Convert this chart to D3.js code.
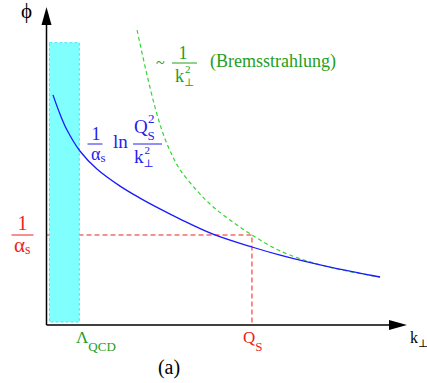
<!DOCTYPE html>
<html>
<head>
<meta charset="utf-8">
<script src="https://cdn.jsdelivr.net/npm/d3@7"></script>
<style>
  body { margin: 0; background: #fff; }
  svg text { font-family: "Liberation Serif", "DejaVu Serif", serif; }
</style>
</head>
<body>
<svg id="chart" width="427" height="383"></svg>
<script>
// saturation curve 1/alpha_s ln(Qs^2/k^2)
const blueK   = [0.22, 0.46, 0.70, 1.14, 1.72, 2.51, 3.19, 3.87, 4.56, 5.68, 7.01, 7.97, 9.68, 11.38];
const bluePhi = [7.67, 7.03, 6.50, 5.80, 5.20, 4.63, 4.23, 3.87, 3.53, 3.03, 2.60, 2.33, 1.93, 1.60];
// bremsstrahlung ~ 1/k^2
const greenK   = [3.09, 3.39, 3.70, 3.97, 4.25, 4.56, 5.14, 5.65, 6.26, 7.01, 7.97, 9.10, 10.25, 11.38];
const greenPhi = [9.83, 8.50, 7.27, 6.40, 5.73, 5.17, 4.47, 3.97, 3.50, 3.00, 2.47, 2.07, 1.80, 1.60];
// marked values
const lambdaBand = [0.10, 1.12];   // shaded Lambda_QCD band
const bandPhi = [0.10, 9.41];
const Qs = 7.01;
const invAlpha = 3.0;

const FONT = "'Liberation Serif', 'DejaVu Serif', serif";
const svg = d3.select("#chart");
const x = d3.scaleLinear().domain([0, 12.3]).range([46.5, 407]);
const y = d3.scaleLinear().domain([0, 10.6]).range([325, 7]);

const line = d3.line().x(d => x(d[0])).y(d => y(d[1])).curve(d3.curveCatmullRom);

const RED = "#ee2222", GREEN = "#22a022", BLUE = "#2222ee";

// red guide lines
svg.append("path")
    .attr("d", `M${x(0)},${y(invAlpha)} H${x(Qs)} V${y(0)}`)
    .attr("fill", "none")
    .attr("stroke", RED)
    .attr("stroke-width", 1)
    .attr("stroke-dasharray", "5,3");

// Lambda_QCD band
svg.append("rect")
    .attr("x", x(lambdaBand[0]))
    .attr("y", y(bandPhi[1]))
    .attr("width", x(lambdaBand[1]) - x(lambdaBand[0]))
    .attr("height", y(bandPhi[0]) - y(bandPhi[1]))
    .attr("fill", "#80ffff")
    .attr("stroke", "#40e8f8")
    .attr("stroke-width", 1)
    .attr("stroke-dasharray", "3,2");

// curves
svg.append("path")
    .attr("d", line(d3.zip(greenK, greenPhi)))
    .attr("fill", "none")
    .attr("stroke", "#33d633")
    .attr("stroke-width", 1.2)
    .attr("stroke-dasharray", "4,3");

svg.append("path")
    .attr("d", line(d3.zip(blueK, bluePhi)))
    .attr("fill", "none")
    .attr("stroke", "#1a1aff")
    .attr("stroke-width", 1.3);

// axes with arrows
const [x0, x1] = x.range(), [y0, y1] = y.range();
svg.append("line")
    .attr("x1", x0).attr("y1", y0).attr("x2", x0).attr("y2", y1 + 16)
    .attr("stroke", "#000").attr("stroke-width", 1.5);
svg.append("line")
    .attr("x1", x0).attr("y1", y0).attr("x2", x1 - 16).attr("y2", y0)
    .attr("stroke", "#000").attr("stroke-width", 1.5);
svg.append("path").attr("d", `M${x0},${y1} l-5,18 h10 z`).attr("fill", "#000");
svg.append("path").attr("d", `M${x1},${y0} l-18,-5 v10 z`).attr("fill", "#000");

// text helpers
function txt(g, px, py, color, size, anchor) {
    return g.append("text").attr("x", px).attr("y", py)
        .attr("fill", color).attr("font-size", size)
        .attr("text-anchor", anchor || "start")
        .style("font-family", FONT);
}
function sub(t, base, s, size, dy) {
    t.append("tspan").text(base);
    t.append("tspan").attr("font-size", size).attr("dy", dy).text(s);
}
function hline(g, cx, py, w, color) {
    g.append("line").attr("x1", cx - w / 2).attr("x2", cx + w / 2)
        .attr("y1", py).attr("y2", py).attr("stroke", color).attr("stroke-width", 1);
}
// k_perp^2 with the 2 stacked above the perp sign
function kPerp2(g, px, py, color, size) {
    txt(g, px, py, color, size).text("k");
    txt(g, px + size * 0.5, py + 4, color, 11).text("⊥");
    txt(g, px + size * 0.5 + 1, py - 9, color, 11).text("2");
}

// axis labels
txt(svg, 26.5, 18, "#000", 21, "middle").text("ϕ");
sub(txt(svg, 410, 343, "#000", 16), "k", "⊥", 11, 4);
txt(svg, 169, 374, "#000", 20, "middle").text("(a)");

// Lambda_QCD and Qs
sub(txt(svg, 76, 343, GREEN, 17), "Λ", "QCD", 13, 8);
sub(txt(svg, 243, 343, RED, 17), "Q", "S", 13, 8);

// 1/alpha_s on the left
const yl = y(invAlpha);
hline(svg, 22.5, yl, 22, RED);
txt(svg, 22.5, yl - 5, RED, 20, "middle").text("1");
sub(txt(svg, 14, yl + 17, RED, 21), "α", "s", 14, 2);

// bremsstrahlung label
txt(svg, 156, 68, GREEN, 16).text("~");
hline(svg, 184.5, 63, 25, GREEN);
txt(svg, 183, 59, GREEN, 18, "middle").text("1");
kPerp2(svg, 175, 82, GREEN, 18);
txt(svg, 210, 67, GREEN, 18).text("(Bremsstrahlung)");

// saturation label
hline(svg, 95, 144, 15, BLUE);
txt(svg, 96, 139.5, BLUE, 18, "middle").text("1");
sub(txt(svg, 91, 160, BLUE, 18), "α", "s", 13, 2);
txt(svg, 113, 148, BLUE, 19).text("ln");
hline(svg, 147.5, 144, 29, BLUE);
txt(svg, 134, 133, BLUE, 19).text("Q");
txt(svg, 147.5, 140, BLUE, 13).text("S");
txt(svg, 148, 123, BLUE, 13).text("2");
kPerp2(svg, 134, 163, BLUE, 19);
</script>
</body>
</html>
